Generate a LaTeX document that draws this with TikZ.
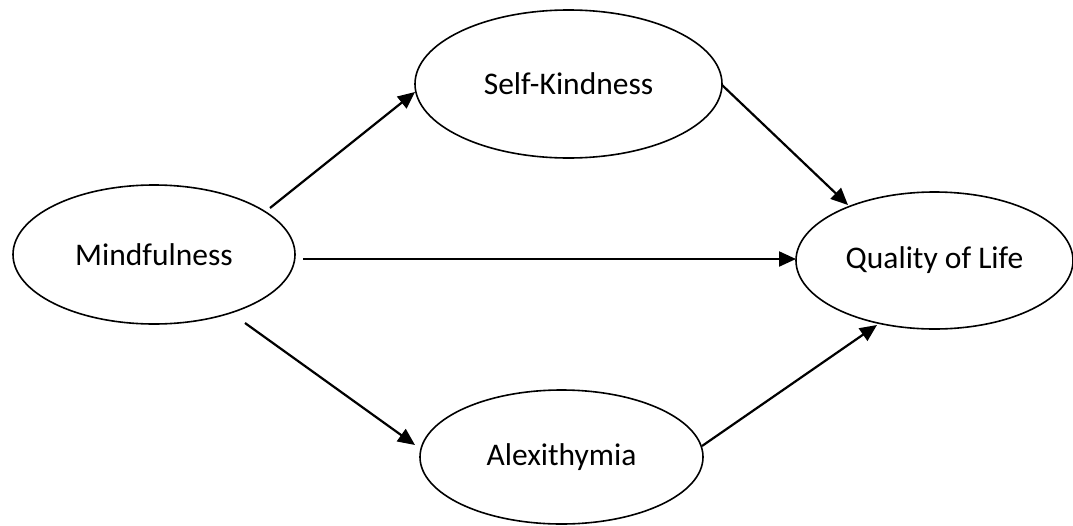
\documentclass[tikz,border=0pt]{standalone}
\usepackage{fontspec}
\setmainfont{Carlito}
\usetikzlibrary{shapes.geometric,arrows.meta,calc}
\begin{document}
\begin{tikzpicture}[x=1pt,y=-1pt,
  oval/.style={ellipse,draw=black,line width=1.6pt,inner sep=0pt,
    font=\fontsize{31.5}{36}\selectfont},
  link/.style={line width=2.2pt,-{Triangle[length=17pt,width=15pt]}}]
\useasboundingbox (0,0) rectangle (1073,525);
\node[oval,minimum width=282pt,minimum height=139pt] (m) at (154,254.5) {Mindfulness};
\node[oval,minimum width=307pt,minimum height=148pt] (sk) at (568.5,84) {Self-Kindness};
\node[oval,minimum width=283pt,minimum height=134pt] (al) at (561.5,457) {Alexithymia};
\node[oval,minimum width=277pt,minimum height=137pt] (q) at (934.5,260.5) {Quality of Life};
\draw[link] ($(m)+(116,-46.5)$) -- ($(sk)+(-153.5,8)$);
\draw[link] ($(m)+(149,4.5)$) -- ($(q)+(-138.5,-1.5)$);
\draw[link] ($(m)+(91,68.5)$) -- ($(al)+(-146.5,-12)$);
\draw[link] ($(sk)+(153.5,1)$) -- ($(q)+(-86.5,-55.5)$);
\draw[link] ($(al)+(140.5,-11)$) -- ($(q)+(-57.5,64.5)$);
\end{tikzpicture}
\end{document}
